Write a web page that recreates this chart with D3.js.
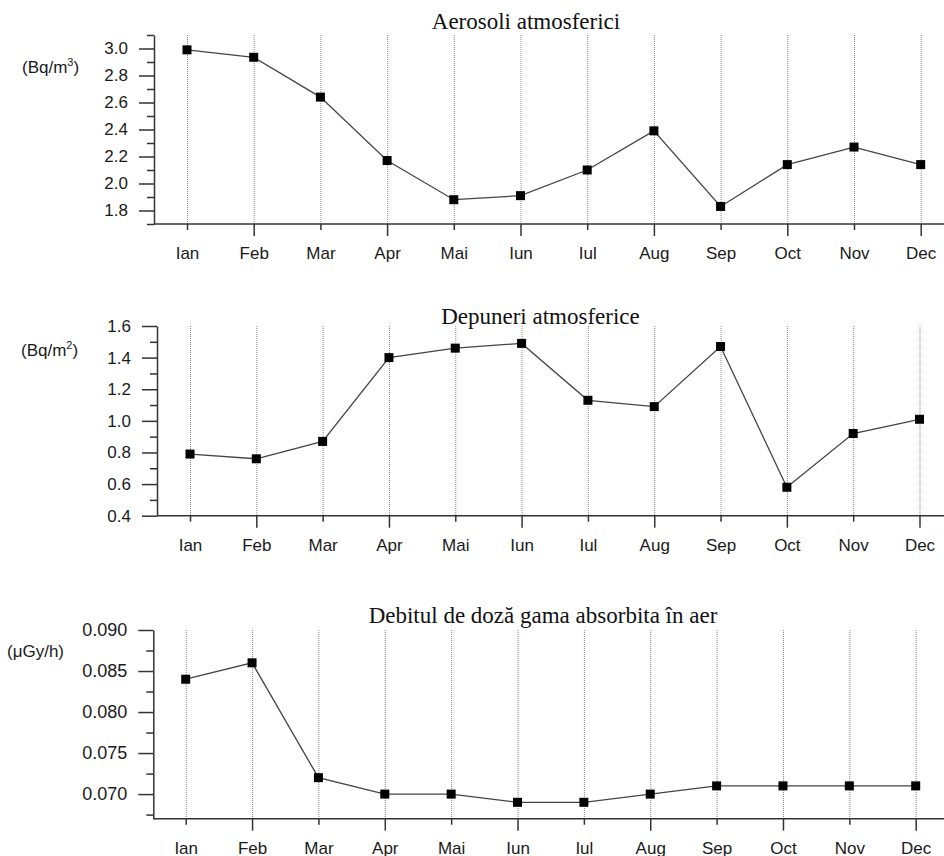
<!DOCTYPE html>
<html>
<head>
<meta charset="utf-8">
<script src="https://cdn.jsdelivr.net/npm/d3@7"></script>
<style>
  body { margin: 0; background: white; }
  .tick text { font-family: "Liberation Sans", Arial, sans-serif; fill: #1a1a1a; }
</style>
</head>
<body>
<div id="wrapper"></div>
<script>

// data
const months = ["Ian", "Feb", "Mar", "Apr", "Mai", "Iun", "Iul", "Aug", "Sep", "Oct", "Nov", "Dec"]

const aerosoli = [2.99, 2.935, 2.64, 2.17, 1.88, 1.91, 2.10, 2.39, 1.83, 2.14, 2.27, 2.14]
const depuneri = [0.79, 0.76, 0.87, 1.40, 1.46, 1.49, 1.13, 1.09, 1.47, 0.58, 0.92, 1.01]
const debit = [0.084, 0.086, 0.072, 0.070, 0.070, 0.069, 0.069, 0.070, 0.071, 0.071, 0.071, 0.071]

const aerosoliTicks = [1.8, 2.0, 2.2, 2.4, 2.6, 2.8, 3.0]
const aerosoliMinor = [1.7, 1.9, 2.1, 2.3, 2.5, 2.7, 2.9, 3.1]
const depuneriTicks = [0.4, 0.6, 0.8, 1.0, 1.2, 1.4, 1.6]
const depuneriMinor = [0.5, 0.7, 0.9, 1.1, 1.3, 1.5]
const debitTicks = [0.070, 0.075, 0.080, 0.085, 0.090]
const debitMinor = [0.0675, 0.0725, 0.0775, 0.0825, 0.0875]


const width = 944
const height = 856

const svg = d3.select("#wrapper")
  .append("svg")
    .attr("width", width)
    .attr("height", height)

function drawPanel(p) {
  const xScale = d3.scalePoint()
    .domain(months)
    .range([p.x0, p.x11])

  const yScale = d3.scaleLinear()
    .domain(p.domain)
    .range([p.bottom, p.top])

  const g = svg.append("g")

  // dotted month gridlines
  g.selectAll(".grid")
      .data(months)
    .join("line")
      .attr("class", "grid")
      .attr("x1", d => xScale(d) + 0.5)
      .attr("x2", d => xScale(d) + 0.5)
      .attr("y1", p.top)
      .attr("y2", p.bottom)
      .attr("stroke", "#888")
      .attr("stroke-width", 1)
      .attr("stroke-dasharray", "1,1")

  // x axis line runs to the right edge
  g.append("line")
      .attr("x1", p.axisX)
      .attr("x2", width)
      .attr("y1", p.bottom)
      .attr("y2", p.bottom)
      .attr("stroke", "#333")
      .attr("stroke-width", 1.5)

  const xAxis = g.append("g")
      .attr("transform", `translate(0, ${p.bottom})`)
      .call(d3.axisBottom(xScale)
        .tickSize(12)
        .tickSizeOuter(0)
        .tickPadding(11))
  xAxis.select(".domain").remove()
  xAxis.selectAll(".tick line")
      .attr("y2", (d, i) => i % 2 ? 12 : 6)
      .attr("stroke", "#333")
      .attr("stroke-width", 1.5)
  xAxis.selectAll(".tick text")
      .style("font-size", "17px")

  // y axis, minor then major
  const yMinor = g.append("g")
      .attr("transform", `translate(${p.axisX}, 0)`)
      .call(d3.axisLeft(yScale)
        .tickValues(p.minor)
        .tickSize(7)
        .tickSizeOuter(0)
        .tickFormat(""))
  yMinor.select(".domain").remove()
  yMinor.selectAll(".tick line")
      .attr("stroke", "#333")
      .attr("stroke-width", 1.5)

  const yAxis = g.append("g")
      .attr("transform", `translate(${p.axisX}, 0)`)
      .call(d3.axisLeft(yScale)
        .tickValues(p.ticks)
        .tickSize(15)
        .tickSizeOuter(0)
        .tickPadding(11)
        .tickFormat(d3.format(p.format)))
  yAxis.select(".domain")
      .attr("stroke", "#333")
      .attr("stroke-width", 1.5)
  yAxis.selectAll(".tick line")
      .attr("stroke", "#333")
      .attr("stroke-width", 1.5)
  yAxis.selectAll(".tick text")
      .style("font-size", p.tickFont)

  // line + square markers
  const line = d3.line()
    .x((d, i) => xScale(months[i]))
    .y(d => yScale(d))

  g.append("path")
      .datum(p.values)
      .attr("d", line)
      .attr("fill", "none")
      .attr("stroke", "#444")
      .attr("stroke-width", 1.3)

  const sq = 9
  g.selectAll(".marker")
      .data(p.values)
    .join("rect")
      .attr("class", "marker")
      .attr("x", (d, i) => xScale(months[i]) - sq / 2)
      .attr("y", d => yScale(d) - sq / 2)
      .attr("width", sq)
      .attr("height", sq)
      .attr("fill", "black")

  // title
  g.append("text")
      .attr("x", p.titleX)
      .attr("y", p.titleY)
      .attr("text-anchor", "middle")
      .style("font-family", "'Liberation Serif', 'Times New Roman', serif")
      .style("font-size", "23px")
      .attr("fill", "#111")
      .text(p.title)

  // unit label
  const unit = g.append("text")
      .attr("x", p.unitX)
      .attr("y", p.unitY)
      .style("font-family", "'Liberation Sans', Arial, sans-serif")
      .style("font-size", "17px")
      .attr("fill", "#1a1a1a")
  unit.append("tspan").text(p.unit[0])
  if (p.unit[1]) {
    unit.append("tspan")
        .attr("dy", -7)
        .style("font-size", "11px")
        .text(p.unit[1])
    unit.append("tspan")
        .attr("dy", 7)
        .text(p.unit[2])
  }
}

drawPanel({
  values: aerosoli, ticks: aerosoliTicks, minor: aerosoliMinor,
  domain: [1.7, 3.1], format: ".1f", tickFont: "17px",
  axisX: 154, top: 35, bottom: 224, x0: 187, x11: 920.7,
  title: "Aerosoli atmosferici", titleX: 526, titleY: 29,
  unit: ["(Bq/m", "3", ")"], unitX: 22, unitY: 73,
})

drawPanel({
  values: depuneri, ticks: depuneriTicks, minor: depuneriMinor,
  domain: [0.4, 1.6], format: ".1f", tickFont: "17px",
  axisX: 157, top: 326, bottom: 515.7, x0: 190, x11: 919.5,
  title: "Depuneri atmosferice", titleX: 540.5, titleY: 324,
  unit: ["(Bq/m", "2", ")"], unitX: 21, unitY: 356,
})

drawPanel({
  values: debit, ticks: debitTicks, minor: debitMinor,
  domain: [0.067, 0.090], format: ".3f", tickFont: "18px",
  axisX: 153.3, top: 630, bottom: 818.7, x0: 185.7, x11: 915.7,
  title: "Debitul de doză gama absorbita în aer", titleX: 543, titleY: 623,
  unit: ["(μGy/h)"], unitX: 7, unitY: 657,
})

</script>
</body>
</html>
